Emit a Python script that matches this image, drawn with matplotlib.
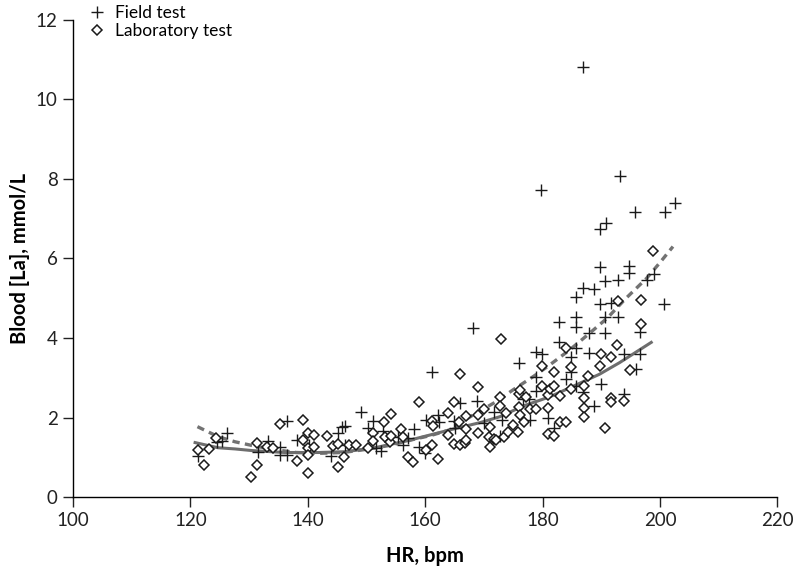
import matplotlib
matplotlib.use("Agg")
import matplotlib.pyplot as plt

# heart rate (bpm) and blood lactate (mmol/L)
field_hr = [121.3, 124.6, 125.3, 126.3, 131.5, 133.2, 135.2, 135.2, 136.4, 136.4,
            138.1, 140.2, 144.0, 145.1, 145.9, 146.3, 146.3, 149.1, 150.2, 151.1,
            151.7, 152.4, 152.8, 155.4, 156.2, 157.1, 158.1, 158.9, 159.9, 160.1,
            161.1, 162.1, 162.3, 164.9, 165.0, 166.0, 168.1, 168.9, 170.0, 171.8,
            172.7, 173.0, 176.0, 176.6, 177.7, 177.8, 178.8, 178.8, 178.8, 179.8,
            179.9, 180.9, 181.9, 182.8, 182.8, 183.9, 184.8, 184.9, 185.6, 185.6,
            185.6, 185.7, 185.6, 186.8, 186.9, 186.9, 187.9, 187.9, 188.7, 188.7,
            189.7, 189.7, 189.7, 189.9, 190.6, 190.7, 190.7, 190.8, 191.6, 192.8,
            192.9, 193.1, 193.8, 193.8, 194.7, 194.7, 195.8, 195.9, 196.6, 196.6,
            197.7, 198.9, 200.6, 200.8, 202.6]
field_la = [1.03, 1.39, 1.41, 1.62, 1.14, 1.41, 1.27, 1.06, 1.91, 1.06,
            1.43, 1.31, 1.03, 1.60, 1.77, 1.79, 1.31, 2.15, 1.74, 1.91,
            1.23, 1.16, 1.67, 1.50, 1.31, 1.49, 1.71, 1.25, 1.11, 1.94,
            3.15, 2.06, 1.89, 1.92, 1.73, 2.37, 4.25, 2.42, 1.85, 2.15,
            1.53, 1.95, 3.38, 2.46, 2.46, 1.94, 3.66, 3.01, 2.67, 7.72,
            3.59, 1.99, 1.74, 4.41, 3.91, 2.96, 3.53, 3.15, 5.02, 4.54,
            4.28, 3.74, 2.79, 10.82, 5.27, 2.65, 4.13, 3.63, 5.23, 2.29,
            6.73, 5.79, 4.85, 2.84, 4.52, 4.12, 5.44, 6.89, 4.89, 5.46,
            4.54, 8.08, 3.59, 2.58, 5.81, 5.63, 7.18, 3.21, 4.14, 3.59,
            5.46, 5.60, 4.85, 7.18, 7.40]

lab_hr = [121.3, 122.3, 123.2, 124.3, 130.4, 131.3, 131.4, 133.1, 134.1, 135.2,
          138.2, 139.1, 139.2, 140.1, 140.1, 141.1, 141.1, 140.1, 140.1, 143.3,
          144.3, 145.2, 145.2, 146.1, 147.1, 148.2, 150.3, 151.1, 151.1, 153.0,
          153.2, 154.0, 154.1, 154.1, 155.9, 156.2, 157.1, 158.0, 158.9, 160.1,
          161.1, 161.2, 161.3, 162.1, 163.9, 163.9, 164.9, 164.9, 165.7, 165.9,
          165.9, 166.7, 166.9, 166.9, 166.9, 169.0, 169.0, 169.0, 170.0, 170.8,
          171.0, 171.0, 171.8, 172.1, 172.8, 172.8, 172.9, 173.5, 173.8, 174.1,
          174.9, 175.8, 175.9, 176.0, 176.1, 176.1, 176.8, 177.1, 177.8, 178.8,
          179.9, 179.9, 180.9, 180.9, 180.9, 181.2, 181.9, 181.9, 181.9, 182.9,
          182.9, 183.9, 183.9, 184.8, 184.8, 187.0, 187.0, 187.0, 187.0, 187.7,
          189.7, 189.9, 190.7, 191.7, 191.7, 191.7, 192.7, 192.9, 193.8, 194.8,
          196.7, 196.7, 198.8]
lab_la = [1.18, 0.81, 1.20, 1.48, 0.50, 0.80, 1.35, 1.27, 1.24, 1.83,
          0.91, 1.43, 1.95, 1.60, 1.23, 1.56, 1.27, 0.60, 1.06, 1.53,
          1.28, 0.75, 1.33, 1.01, 1.31, 1.31, 1.23, 1.60, 1.42, 1.88,
          1.50, 1.39, 2.09, 1.53, 1.70, 1.50, 1.01, 0.89, 2.40, 1.18,
          1.92, 1.31, 1.79, 0.96, 2.11, 1.56, 2.40, 1.33, 1.88, 3.09,
          1.31, 1.35, 2.04, 1.71, 1.43, 2.76, 2.06, 1.62, 2.21, 1.52,
          1.77, 1.25, 1.45, 1.43, 2.51, 2.29, 3.97, 1.52, 2.12, 1.64,
          1.81, 1.64, 2.27, 2.59, 2.69, 2.06, 1.89, 2.52, 2.21, 2.21,
          3.30, 2.79, 2.57, 2.23, 1.58, 2.71, 3.14, 2.79, 1.53, 2.54,
          1.89, 3.76, 1.89, 3.28, 2.73, 2.79, 2.48, 2.23, 2.01, 3.04,
          3.30, 3.59, 1.74, 3.51, 2.48, 2.40, 3.82, 4.93, 2.42, 3.19,
          4.96, 4.34, 6.19]

# fitted curves (solid = laboratory, dashed = field)
lab_fit_hr = [120.8, 124.7, 127.6, 130.4, 136.1, 141.8, 146.3, 151.1, 156.8, 160.8,
              165.3, 169.3, 172.7, 176.7, 181.2, 185.7, 189.7, 193.1, 198.5]
lab_fit_la = [1.37, 1.24, 1.21, 1.17, 1.12, 1.12, 1.14, 1.23, 1.41, 1.56,
              1.73, 1.87, 2.02, 2.29, 2.52, 2.82, 3.09, 3.38, 3.89]
field_fit_hr = [121.2, 124.7, 127.6, 130.4, 134.0, 138.0, 142.0, 146.0, 150.0, 154.0,
                158.0, 161.0, 164.2, 168.1, 172.1, 175.0, 178.4, 181.0, 184.6, 188.0,
                191.0, 194.2, 197.7, 200.0, 202.2]
field_fit_la = [1.77, 1.52, 1.39, 1.30, 1.20, 1.12, 1.10, 1.12, 1.20, 1.30,
                1.45, 1.55, 1.69, 2.06, 2.40, 2.70, 3.03, 3.30, 3.70, 4.12,
                4.50, 5.00, 5.50, 5.90, 6.30]

plt.rcParams['font.family'] = ['Lato', 'DejaVu Sans']

fig = plt.figure(figsize=(7.96, 5.70), dpi=100)
ax = fig.add_axes([0.0917, 0.128, 0.885, 0.837])

ax.plot(field_fit_hr, field_fit_la, color='#737373', lw=2.4, ls=(0, (2.2, 1.6)), zorder=1)
ax.plot(lab_fit_hr, lab_fit_la, color='#6e6e6e', lw=2.2, zorder=1)

ax.plot(field_hr, field_la, ls='none', marker='+', ms=8, mew=1.0, color='#1a1a1a',
        label='Field test', zorder=2)
ax.plot(lab_hr, lab_la, ls='none', marker='D', ms=5.2, mew=1.1, mfc='white',
        mec='#1a1a1a', label='Laboratory test', zorder=2)

ax.set_xlim(100, 220)
ax.set_ylim(0, 12)
ax.set_xticks(range(100, 221, 20))
ax.set_yticks(range(0, 13, 2))
ax.tick_params(direction='out', length=7, width=1, labelsize=13.5, colors='#222222', pad=4)
for s in ['top', 'right']:
    ax.spines[s].set_visible(False)
for s in ['left', 'bottom']:
    ax.spines[s].set_linewidth(1)

ax.set_xlabel('HR, bpm', fontsize=14.5, fontweight='bold', labelpad=12)
ax.set_ylabel('Blood [La], mmol/L', fontsize=14.5, fontweight='bold', labelpad=4)

ax.legend(loc='upper left', bbox_to_anchor=(0.015, 1.045), frameon=False, fontsize=12.5,
          handlelength=0.8, handletextpad=0.6, labelspacing=0.1, borderaxespad=0)

fig.savefig('out.png', dpi=100)
